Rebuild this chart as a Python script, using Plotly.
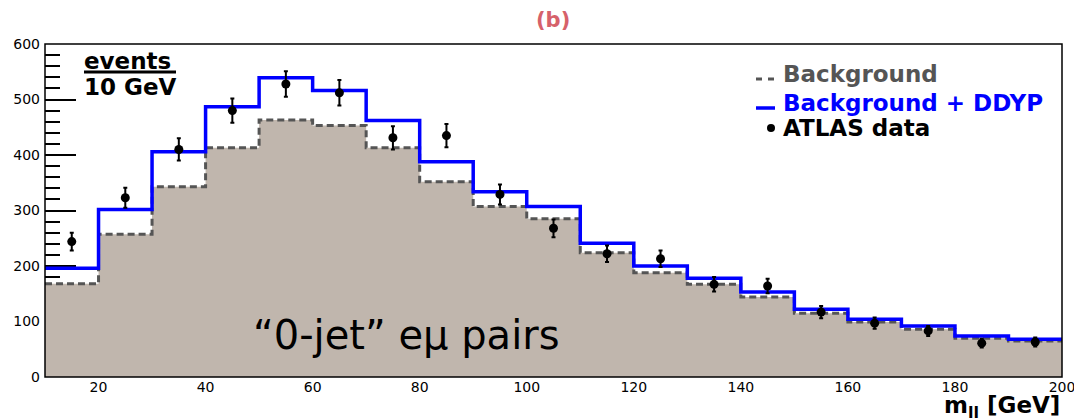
import plotly.graph_objects as go

# ---- data ----
bin_edges = [10, 20, 30, 40, 50, 60, 70, 80, 90, 100, 110, 120, 130, 140, 150, 160, 170, 180, 190, 200]
bin_centers = [15, 25, 35, 45, 55, 65, 75, 85, 95, 105, 115, 125, 135, 145, 155, 165, 175, 185, 195]
background = [168, 257, 343, 413, 463, 453, 413, 352, 307, 285, 224, 188, 167, 144, 115, 99, 86, 70, 65]
background_ddyp = [196, 302, 406, 487, 539, 516, 462, 388, 334, 307, 241, 200, 178, 153, 122, 104, 92, 74, 68]
atlas_data = [244, 323, 410, 480, 528, 512, 431, 435, 329, 268, 222, 213, 167, 164, 117, 97, 83, 61, 63]
atlas_err = [16, 18, 20, 22, 23, 23, 21, 21, 18, 16, 15, 15, 13, 13, 11, 10, 9, 8, 8]
y_ticks = [0, 100, 200, 300, 400, 500, 600]
x_ticks = [20, 40, 60, 80, 100, 120, 140, 160, 180, 200]

W, H = 1074, 420
L, R, T, B = 45, 12, 44, 43
PW, PH = W - L - R, H - T - B


def px(xp):
    return (xp - L) / PW


def py(yp):
    return (H - B - yp) / PH


FILL = "#c0b6ad"
GRAY = "#555555"
BLUE = "#0000ff"
FONT_B = "DejaVu Sans"

fig = go.Figure()

step_bkg = background + [background[-1]]
step_sig = background_ddyp + [background_ddyp[-1]]

fig.add_trace(go.Scatter(x=bin_edges, y=step_bkg, mode="lines", line_shape="hv",
                         line=dict(width=0, color=FILL), fill="tozeroy", fillcolor=FILL,
                         hoverinfo="skip", showlegend=False))
fig.add_trace(go.Scatter(x=bin_edges, y=step_bkg, mode="lines", line_shape="hv",
                         line=dict(width=3, color=GRAY, dash="7px,4px"),
                         name="Background", showlegend=False))
fig.add_trace(go.Scatter(x=bin_edges, y=step_sig, mode="lines", line_shape="hv",
                         line=dict(width=3.5, color=BLUE),
                         name="Background + DDYP", showlegend=False))
fig.add_trace(go.Scatter(x=bin_centers, y=atlas_data, mode="markers",
                         marker=dict(size=9, color="black"),
                         error_y=dict(type="data", array=atlas_err, color="black",
                                      thickness=2, width=2),
                         name="ATLAS data", showlegend=False))

fig.update_layout(
    width=W, height=H,
    margin=dict(l=L, r=R, t=T, b=B),
    paper_bgcolor="white", plot_bgcolor="white",
    xaxis=dict(range=[10, 200], tickvals=x_ticks, ticks="", showgrid=False,
               zeroline=False, showline=False, ticklabeloverflow="allow",
               automargin=False,
               tickfont=dict(family=FONT_B, size=14, color="black")),
    yaxis=dict(range=[0, 600], tickvals=y_ticks, ticks="inside", ticklen=31,
               tickwidth=1.5, tickcolor="black", showgrid=False, zeroline=False,
               showline=False, layer="below traces", ticklabelstandoff=4,
               automargin=False,
               tickfont=dict(family=FONT_B, size=14, color="black"),
               minor=dict(dtick=20, ticks="inside", ticklen=15, tickwidth=1.5,
                          tickcolor="black", showgrid=False)),
    showlegend=False,
)

shapes = [
    dict(type="rect", xref="paper", yref="paper", x0=0, x1=1, y0=0, y1=1,
         line=dict(color="black", width=1.5), layer="above"),
    # fraction bar for events / 10 GeV
    dict(type="line", xref="paper", yref="paper", x0=px(84), x1=px(176), y0=py(72), y1=py(72),
         line=dict(color="black", width=3)),
    # legend symbols
    dict(type="line", xref="paper", yref="paper", x0=px(756), x1=px(762), y0=py(79), y1=py(79),
         line=dict(color=GRAY, width=3)),
    dict(type="line", xref="paper", yref="paper", x0=px(768), x1=px(774), y0=py(79), y1=py(79),
         line=dict(color=GRAY, width=3)),
    dict(type="line", xref="paper", yref="paper", x0=px(756), x1=px(775), y0=py(108), y1=py(108),
         line=dict(color=BLUE, width=3.5)),
    dict(type="circle", xref="paper", yref="paper", x0=px(767), x1=px(775), y0=py(124), y1=py(132),
         fillcolor="black", line=dict(color="black", width=0)),
]
fig.update_layout(shapes=shapes)

ann = [
    dict(text="<b>(b)</b>", x=px(553), y=py(20), font=dict(family=FONT_B, size=21, color="#d6616a")),
    dict(text="<b>events</b>", x=px(82), y=py(61), xanchor="left",
         font=dict(family=FONT_B, size=23, color="black")),
    dict(text="<b>10 GeV</b>", x=px(82), y=py(87), xanchor="left",
         font=dict(family=FONT_B, size=23, color="black")),
    dict(text="<b>Background</b>", x=px(781), y=py(74), xanchor="left",
         font=dict(family=FONT_B, size=23, color=GRAY)),
    dict(text="<b>Background + DDYP</b>", x=px(781), y=py(103), xanchor="left",
         font=dict(family=FONT_B, size=23, color=BLUE)),
    dict(text="<b>ATLAS data</b>", x=px(781), y=py(128), xanchor="left",
         font=dict(family=FONT_B, size=23, color="black")),
    dict(text="\u201c0-jet\u201d e\u03bc pairs", x=px(251), y=py(335), xanchor="left",
         font=dict(family="DejaVu Sans", size=40, color="black")),
    dict(text="<b>m<sub>ll</sub> [GeV]</b>", x=px(1062), y=py(407), xanchor="right",
         font=dict(family=FONT_B, size=23, color="black")),
]
for a in ann:
    a.setdefault("xanchor", "center")
    a.update(xref="paper", yref="paper", showarrow=False, yanchor="middle")
fig.update_layout(annotations=ann)

fig.write_html("out.html")
